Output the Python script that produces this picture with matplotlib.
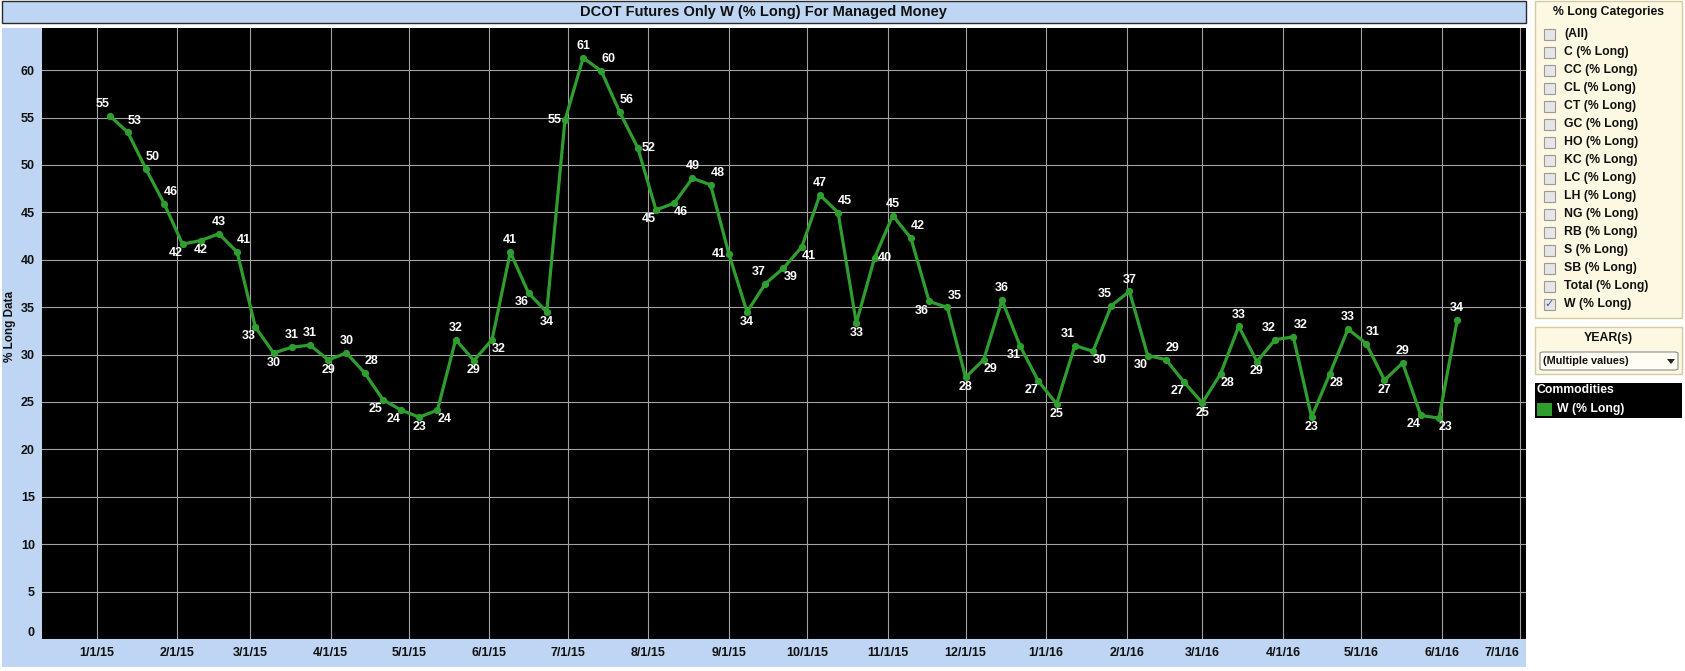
import matplotlib
matplotlib.use("Agg")
import matplotlib.pyplot as plt
from matplotlib.patches import Rectangle, FancyBboxPatch, Polygon
import pandas as pd

# weekly report dates (Tuesdays)
report_dates = [
    "2015-01-06", "2015-01-13", "2015-01-20", "2015-01-27",
    "2015-02-03", "2015-02-10", "2015-02-17", "2015-02-24",
    "2015-03-03", "2015-03-10", "2015-03-17", "2015-03-24", "2015-03-31",
    "2015-04-07", "2015-04-14", "2015-04-21", "2015-04-28",
    "2015-05-05", "2015-05-12", "2015-05-19", "2015-05-26",
    "2015-06-02", "2015-06-09", "2015-06-16", "2015-06-23", "2015-06-30",
    "2015-07-07", "2015-07-14", "2015-07-21", "2015-07-28",
    "2015-08-04", "2015-08-11", "2015-08-18", "2015-08-25",
    "2015-09-01", "2015-09-08", "2015-09-15", "2015-09-22", "2015-09-29",
    "2015-10-06", "2015-10-13", "2015-10-20", "2015-10-27",
    "2015-11-03", "2015-11-10", "2015-11-17", "2015-11-24",
    "2015-12-01", "2015-12-08", "2015-12-15", "2015-12-22", "2015-12-29",
    "2016-01-05", "2016-01-12", "2016-01-19", "2016-01-26",
    "2016-02-02", "2016-02-09", "2016-02-16", "2016-02-23",
    "2016-03-01", "2016-03-08", "2016-03-15", "2016-03-22", "2016-03-29",
    "2016-04-05", "2016-04-12", "2016-04-19", "2016-04-26",
    "2016-05-03", "2016-05-10", "2016-05-17", "2016-05-24", "2016-05-31",
    "2016-06-07",
]

# W (% Long) for managed money
pct_long = [
    55.19, 53.44, 49.55, 45.90, 41.65, 42.03, 42.74, 40.81, 32.90, 30.17,
    30.77, 31.00, 29.44, 30.17, 28.07, 25.26, 24.14, 23.40, 24.14, 31.58,
    29.37, 31.58, 40.80, 36.49, 34.50, 54.70, 61.30, 59.90, 55.60, 51.80,
    45.26, 45.96, 48.60, 47.90, 40.63, 34.49, 37.47, 39.12, 41.33, 46.84,
    44.98, 33.33, 40.18, 44.67, 42.28, 35.60, 34.98, 27.60, 29.47, 35.75,
    30.88, 27.19, 24.80, 30.95, 30.35, 35.16, 36.67, 29.90, 29.47, 27.09,
    24.91, 27.96, 32.98, 29.26, 31.58, 31.86, 23.40, 27.96, 32.70, 31.16,
    27.30, 29.12, 23.58, 23.30, 33.68,
]

# where each value label sits relative to its point
label_side = (
    "al ar ar ar bl b a ar bl b "
    "a a b a ar bl bl b br a "
    "b br a bl b l a ar ar r "
    "bl br a ar l b al br br a "
    "ar b r a ar bl ar b br a "
    "bl bl b al br al a bl ar bl "
    "b br a b al ar b br a ar "
    "b a bl br a"
).split()

categories = ["(All)", "C (% Long)", "CC (% Long)", "CL (% Long)", "CT (% Long)",
              "GC (% Long)", "HO (% Long)", "KC (% Long)", "LC (% Long)",
              "LH (% Long)", "NG (% Long)", "RB (% Long)", "S (% Long)",
              "SB (% Long)", "Total (% Long)", "W (% Long)"]
checked = "W (% Long)"

title = "DCOT Futures Only W (% Long) For Managed Money"
y_ticks = list(range(0, 61, 5))

plt.rcParams["font.family"] = ["Liberation Sans", "DejaVu Sans"]
plt.rcParams["font.weight"] = "bold"

W, H = 1685, 671
BLUE = "#bed6f4"
GREEN = "#2f9e2f"
PANEL = "#fdf8e2"
PANEL_EDGE = "#d6cba0"


def fx(x):
    return x / W


def fy(y):
    return 1 - y / H


fig = plt.figure(figsize=(W / 100, H / 100), dpi=100)

# light blue frame round the plot and the title bar
fig.add_artist(Rectangle((fx(1.5), fy(667)), fx(1526) - fx(1.5), fy(27.5) - fy(667),
                         transform=fig.transFigure, facecolor=BLUE, edgecolor="none", zorder=-5))
fig.add_artist(Rectangle((fx(1.5), fy(23)), fx(1526) - fx(1.5), fy(1) - fy(23),
                         transform=fig.transFigure, facecolor=BLUE, edgecolor="#2a2a2a",
                         lw=1.0, zorder=-5))
fig.text(fx(763), fy(12), title, ha="center", va="center", fontsize=10.5, color="#111111")

ax = fig.add_axes([fx(41.7), fy(639), fx(1526) - fx(41.7), fy(27.5) - fy(639)])
ax.set_facecolor("black")

dates = pd.to_datetime(report_dates)
ax.plot(dates, pct_long, color=GREEN, lw=2.3, marker="o", ms=4.2, zorder=3)

offsets = {
    "a": (0, 8.5), "b": (0, -7), "l": (-7.5, 0), "r": (7.5, 0),
    "al": (-5, 8.5), "ar": (5, 8.5), "bl": (-5, -6.5), "br": (5, -6.5),
}
for d, v, side in zip(dates, pct_long, label_side):
    ax.annotate(f"{v:.0f}", (d, v), xytext=offsets[side], textcoords="offset points",
                ha="center", va="center", color="white", fontsize=9, zorder=4)

ax.set_xlim(pd.Timestamp("2014-12-10 21:00"), pd.Timestamp("2016-07-03 10:00"))
ax.set_ylim(0, 64.5)

month_ticks = pd.date_range("2015-01-01", "2016-07-01", freq="MS")
ax.set_xticks(month_ticks)
ax.set_xticklabels([f"{t.month}/{t.day}/{t:%y}" for t in month_ticks])
ax.set_yticks(y_ticks)
ax.set_yticklabels([str(t) for t in y_ticks])
ax.tick_params(length=0, labelsize=9, colors="#111111")
ax.tick_params(axis="x", pad=6)
ax.tick_params(axis="y", pad=5)
ax.get_yticklabels()[0].set_va("bottom")
ax.get_xticklabels()[-1].set_ha("right")

ax.grid(True, color="#a3a3a3", lw=0.8)
ax.set_axisbelow(True)
for s in ax.spines.values():
    s.set_visible(False)

fig.text(fx(10), fy(326), "% Long Data", rotation=90, ha="center", va="center",
         fontsize=8.5, color="#111111")

# right side: filter panel
fig.add_artist(Rectangle((fx(1535), fy(318)), fx(1682) - fx(1535), fy(0.5) - fy(318),
                         transform=fig.transFigure, facecolor=PANEL, edgecolor=PANEL_EDGE, lw=1))
fig.text(fx(1608.5), fy(12), "% Long Categories", ha="center", va="center",
         fontsize=8.8, color="#111111")
for i, name in enumerate(categories):
    yc = 34.3 + i * 17.98
    fig.add_artist(Rectangle((fx(1543.5), fy(yc + 5.5)), fx(11) - fx(0), fy(0) - fy(11),
                             transform=fig.transFigure, facecolor="#e6e6e6",
                             edgecolor="#9a9a9a", lw=0.8))
    if name == checked:
        fig.text(fx(1549), fy(yc), "\u2713", ha="center", va="center", fontsize=8,
                 color="#3c5a9a", family="DejaVu Sans")
    fig.text(fx(1564), fy(yc), name, ha="left", va="center", fontsize=8.8, color="#111111")

# year filter
fig.add_artist(Rectangle((fx(1535), fy(374)), fx(1682) - fx(1535), fy(327) - fy(374),
                         transform=fig.transFigure, facecolor=PANEL, edgecolor=PANEL_EDGE, lw=1))
fig.text(fx(1608.5), fy(338), "YEAR(s)", ha="center", va="center", fontsize=8.8,
         color="#111111")
fig.add_artist(FancyBboxPatch((fx(1540), fy(370)), fx(1678) - fx(1540), fy(352) - fy(370),
                              boxstyle="round,pad=0,rounding_size=0.002",
                              transform=fig.transFigure, facecolor="#fffdf4",
                              edgecolor="#8a8a8a", lw=0.8))
fig.text(fx(1543), fy(361), "(Multiple values)", ha="left", va="center", fontsize=7.8,
         color="#111111")
fig.add_artist(Polygon([(fx(1667), fy(359)), (fx(1675), fy(359)), (fx(1671), fy(364))],
                       closed=True, transform=fig.transFigure, facecolor="#222222",
                       edgecolor="none"))

# colour legend
fig.add_artist(Rectangle((fx(1535), fy(418)), fx(1682) - fx(1535), fy(383) - fy(418),
                         transform=fig.transFigure, facecolor="black", edgecolor="none"))
fig.text(fx(1536), fy(390), "Commodities", ha="left", va="center", fontsize=8.8, color="white")
fig.add_artist(Rectangle((fx(1537), fy(416)), fx(15) - fx(0), fy(0) - fy(13),
                         transform=fig.transFigure, facecolor=GREEN, edgecolor="none"))
fig.text(fx(1557), fy(409), "W (% Long)", ha="left", va="center", fontsize=8.8, color="white")

fig.savefig("out.png", dpi=100, facecolor="white")
